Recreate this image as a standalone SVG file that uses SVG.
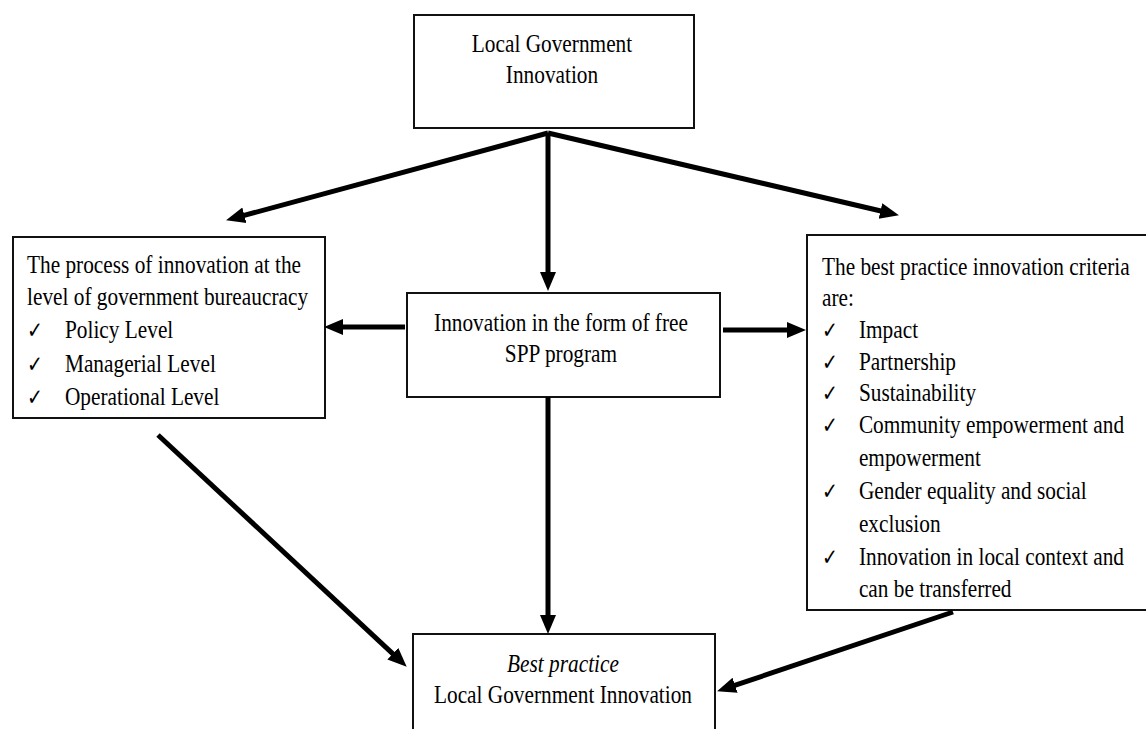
<svg xmlns="http://www.w3.org/2000/svg" width="1146" height="729" viewBox="0 0 1146 729">
<style>
.box{fill:#fff;stroke:#111;stroke-width:2}
.t{font-family:"Liberation Serif","Times New Roman",serif;font-size:26px;fill:#000}
.c{text-anchor:middle}
.ck{font-family:"DejaVu Sans",sans-serif;font-size:23px}
.it{font-style:italic}
.a{stroke:#000;stroke-width:5;fill:none;marker-end:url(#ah)}
</style>
<defs>
<marker id="ah" markerUnits="userSpaceOnUse" markerWidth="20" markerHeight="18" viewBox="0 0 20 18" refX="6" refY="9" orient="auto">
<path d="M0,1 L19,9 L0,17 z" fill="#000"/>
</marker>
</defs>
<rect width="1146" height="729" fill="#fff"/>
<g id="top">
<rect class="box" x="414" y="15" width="280" height="113"/>
<text class="t c" transform="translate(552,0) scale(0.82,1)"><tspan x="0" y="52">Local Government</tspan><tspan x="0" y="83">Innovation</tspan></text>
</g>
<g id="left">
<rect class="box" x="13" y="237" width="312" height="181"/>
<text class="t" transform="translate(27,0) scale(0.82,1)"><tspan x="0" y="273">The process of innovation at the</tspan><tspan x="0" y="305">level of government bureaucracy</tspan><tspan x="0" y="338" class="ck">✓</tspan><tspan x="46.3" y="338">Policy Level</tspan><tspan x="0" y="372" class="ck">✓</tspan><tspan x="46.3" y="372">Managerial Level</tspan><tspan x="0" y="405" class="ck">✓</tspan><tspan x="46.3" y="405">Operational Level</tspan></text>
</g>
<g id="middle">
<rect class="box" x="407" y="293" width="313" height="104"/>
<text class="t c" transform="translate(561,0) scale(0.82,1)"><tspan x="0" y="331">Innovation in the form of free</tspan><tspan x="0" y="362">SPP program</tspan></text>
</g>
<g id="right">
<rect class="box" x="807" y="235" width="345" height="375"/>
<text class="t" transform="translate(822,0) scale(0.82,1)"><tspan x="0" y="275">The best practice innovation criteria</tspan><tspan x="0" y="306">are:</tspan><tspan x="0" y="338" class="ck">✓</tspan><tspan x="45" y="338">Impact</tspan><tspan x="0" y="370" class="ck">✓</tspan><tspan x="45" y="370">Partnership</tspan><tspan x="0" y="401" class="ck">✓</tspan><tspan x="45" y="401">Sustainability</tspan><tspan x="0" y="433" class="ck">✓</tspan><tspan x="45" y="433">Community empowerment and</tspan><tspan x="45" y="466">empowerment</tspan><tspan x="0" y="499" class="ck">✓</tspan><tspan x="45" y="499">Gender equality and social</tspan><tspan x="45" y="532">exclusion</tspan><tspan x="0" y="565" class="ck">✓</tspan><tspan x="45" y="565">Innovation in local context and</tspan><tspan x="45" y="597">can be transferred</tspan></text>
</g>
<g id="bottom">
<rect class="box" x="413" y="634" width="302" height="120"/>
<text class="t c" transform="translate(563,0) scale(0.82,1)"><tspan x="0" y="672" class="it">Best practice</tspan><tspan x="0" y="703">Local Government Innovation</tspan></text>
</g>
<g id="connectors">
<line class="a" x1="548" y1="133" x2="238.6" y2="216.9"/>
<line class="a" x1="548" y1="133" x2="548" y2="278"/>
<line class="a" x1="548" y1="133" x2="886.3" y2="212.3"/>
<line class="a" x1="405" y1="327" x2="337" y2="327"/>
<line class="a" x1="723" y1="330" x2="793" y2="330"/>
<line class="a" x1="548" y1="397" x2="548" y2="621"/>
<line class="a" x1="158" y1="435" x2="397.2" y2="657.8"/>
<line class="a" x1="953" y1="612" x2="729.4" y2="687.2"/>
</g>
</svg>
